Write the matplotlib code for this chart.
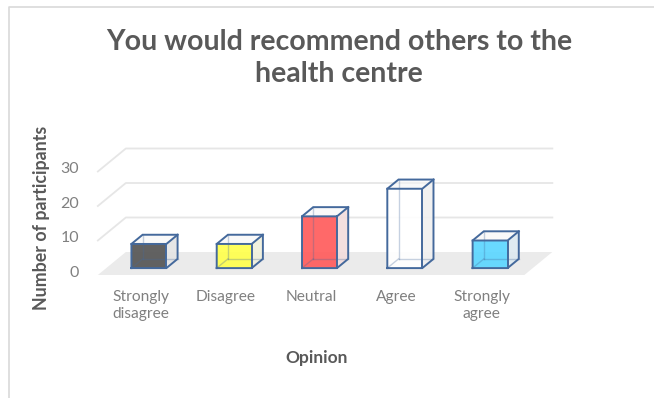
import matplotlib.pyplot as plt
from matplotlib.patches import Polygon
from matplotlib.lines import Line2D

plt.rcParams['font.family'] = ['Lato', 'DejaVu Sans']

# survey answers
opinions = ['Strongly\ndisagree', 'Disagree', 'Neutral', 'Agree', 'Strongly\nagree']
participants = [7, 7, 15, 23, 8]
front_colors = ['#555555', '#ffff4d', '#ff5c5c', '#ffffff', '#5cd6ff']
side_colors = ['#e4e4e4', '#f0f0dc', '#f2dcdc', '#f0f0f0', '#dde9f0']
y_ticks = [0, 10, 20, 30]

W, H = 654, 398
fig = plt.figure(figsize=(W / 100, H / 100), dpi=100)
ax = fig.add_axes([0, 0, 1, 1])

# map: category index / value -> pixels (oblique 3D look)
x0_px, step_px = 140.5, 85.3
v0_px, unit_px = 275, 3.45
ax.set_xlim(-x0_px / step_px, (W - x0_px) / step_px)
ax.set_ylim((v0_px - H) / unit_px, v0_px / unit_px)
ax.axis('off')

DX, DV = 28 / step_px, 23 / unit_px  # full depth offset of the floor


def pt(x, v, t):
    return (x + t * DX, v + t * DV)


def seg(a, b, **kw):
    p, q = pt(*a), pt(*b)
    ax.plot([p[0], q[0]], [p[1], q[1]], **kw)


grid_c = '#e6e6e6'
left, right = -0.5, len(opinions) - 0.5

# floor
ax.add_patch(Polygon([pt(left, 0, 0), pt(right, 0, 0), pt(right, 0, 1), pt(left, 0, 1)],
                     closed=True, fc='#ebebeb', ec='none', zorder=1))
# back wall + side wall gridlines
for v in y_ticks[1:]:
    xs, ys = zip(pt(left, v, 0), pt(left, v, 1), pt(right, v, 1))
    ax.plot(xs, ys, color=grid_c, lw=1.3, zorder=0)
for v in y_ticks:
    x, y = pt(left, v, 0)
    ax.text(x - 0.22, y + 0.6, str(v), ha='right', va='center', fontsize=11.5, color='#808080')

edge = '#44699c'
w = 0.41
t0, t1 = 0.3, 0.7
for i, (val, fc, sc) in enumerate(zip(participants, front_colors, side_colors)):
    xa, xb = i - w / 2, i + w / 2
    z = 3 + i
    # right side and top faces
    ax.add_patch(Polygon([pt(xb, 0, t0), pt(xb, 0, t1), pt(xb, val, t1), pt(xb, val, t0)],
                         closed=True, fc=sc, ec='none', alpha=0.9, zorder=z))
    ax.add_patch(Polygon([pt(xa, val, t0), pt(xb, val, t0), pt(xb, val, t1), pt(xa, val, t1)],
                         closed=True, fc='#f6f6f6', ec='none', alpha=0.6, zorder=z))
    # front face
    ax.add_patch(Polygon([pt(xa, 0, t0), pt(xb, 0, t0), pt(xb, val, t0), pt(xa, val, t0)],
                         closed=True, fc=fc, ec='none', alpha=0.92, zorder=z + 0.1))
    # back edges seen through the translucent box
    for a, b in [((xa, 0, t0), (xa, 0, t1)), ((xa, 0, t1), (xb, 0, t1)),
                 ((xa, 0, t1), (xa, val, t1))]:
        seg(a, b, color=edge, lw=1.0, alpha=0.3, zorder=z + 0.15)
    # visible edges
    outline = [pt(xa, 0, t0), pt(xb, 0, t0), pt(xb, 0, t1), pt(xb, val, t1), pt(xa, val, t1),
               pt(xa, val, t0), pt(xa, 0, t0)]
    xs, ys = zip(*outline)
    ax.plot(xs, ys, color=edge, lw=1.4, zorder=z + 0.2, solid_joinstyle='miter')
    xs, ys = zip(pt(xa, val, t0), pt(xb, val, t0), pt(xb, val, t1))
    ax.plot(xs, ys, color=edge, lw=1.4, zorder=z + 0.2)
    seg((xb, 0, t0), (xb, val, t0), color=edge, lw=1.4, zorder=z + 0.2)

# category labels
for i, lab in enumerate(opinions):
    ax.text(i, -4.3, lab, ha='center', va='top', fontsize=11.2, color='#808080', linespacing=1.25)

fig.text(317 / W, 1 - 358 / H, 'Opinion', ha='center', va='center', fontsize=12.5,
         fontweight='bold', color='#595959')
fig.text(42 / W, 1 - 218 / H, 'Number of participants', ha='center', va='center',
         rotation=90, fontsize=12.8, fontweight='bold', color='#595959')
fig.text(339 / W, 1 - 58 / H, 'You would recommend others to the\nhealth centre', ha='center',
         va='center', fontsize=20.5, fontweight='bold', color='#595959', linespacing=1.25)

# chart area border
fig.add_artist(Line2D([9 / W, 9 / W, 1], [0, 1 - 7 / H, 1 - 7 / H], color='#d9d9d9', lw=1.2))

fig.savefig('out.png', dpi=100)
